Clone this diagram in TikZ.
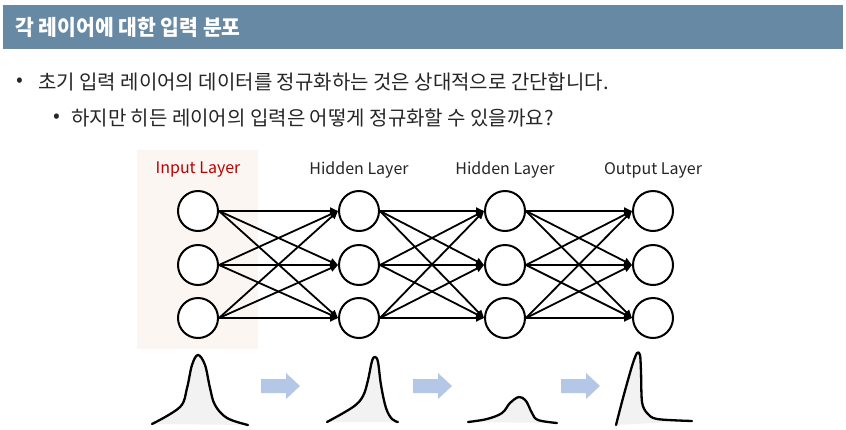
\documentclass[tikz,border=0pt]{standalone}
\usepackage{fontspec}
\setmainfont{Noto Sans CJK KR}
\usetikzlibrary{arrows.meta}
\definecolor{titlebar}{HTML}{6789A4}
\definecolor{inred}{HTML}{C00000}
\definecolor{inputshade}{HTML}{FBF6F1}
\definecolor{blockarrow}{HTML}{B4C7E7}
\definecolor{curvefill}{HTML}{F2F2F2}
\definecolor{bodytext}{HTML}{262626}
\begin{document}
\begin{tikzpicture}[x=1pt,y=-1pt,
  neuron/.style={circle, draw=black, line width=2pt, minimum size=40pt, inner sep=0pt, fill=white},
  link/.style={line width=1.8pt, -{Triangle[length=8pt,width=7pt]}},
  layerlabel/.style={font=\fontsize{16}{19}\selectfont, text=black!85},
  bodyline/.style={anchor=west, inner sep=0pt, text=bodytext, font=\fontsize{20}{24}\selectfont},
  curveline/.style={line width=2.3pt, line join=round, line cap=round},
  blockarr/.style={fill=blockarrow, draw=none}]
\useasboundingbox (0,0) rectangle (846,429);
\fill[white] (0,0) rectangle (846,429);
% title bar
\fill[titlebar] (3,5) rectangle (843,49);
\node[anchor=west, inner sep=0pt, text=white, font=\bfseries\fontsize{21.5}{25}\selectfont] (title) at (15,27) {\scalebox{0.95}[1]{각 레이어에 대한 입력 분포}};
% bullets
\node[bodyline] (b1dot) at (16,82) {•};
\node[bodyline] (b1) at (38,82) {초기 입력 레이어의 데이터를 정규화하는 것은 상대적으로 간단합니다.};
\node[bodyline] (b2dot) at (53,118) {•};
\node[bodyline] (b2) at (71,118) {하지만 히든 레이어의 입력은 어떻게 정규화할 수 있을까요?};
% input shading
\fill[inputshade] (137,150) rectangle (258,349);
% labels
\node[layerlabel, text=inred] (lin) at (198,170) {Input Layer};
\node[layerlabel] (lh1) at (359,170) {Hidden Layer};
\node[layerlabel] (lh2) at (505,170) {Hidden Layer};
\node[layerlabel] (lout) at (653,170) {Output Layer};
% neurons
\foreach \r/\y in {1/211, 2/265, 3/318} {
  \node[neuron] (i\r) at (198,\y) {};
  \node[neuron] (h\r) at (359,\y) {};
  \node[neuron] (g\r) at (505,\y) {};
  \node[neuron] (o\r) at (653,\y) {};
}
\foreach \a in {1,2,3} {
  \foreach \b in {1,2,3} {
    \draw[link] (i\a.east) -- (h\b.west);
    \draw[link] (h\a.east) -- (g\b.west);
    \draw[link] (g\a.east) -- (o\b.west);
  }
}
% distributions
\fill[curvefill] plot[smooth, tension=0.6] coordinates {(152,424) (180,407) (187,388) (192,365) (198,355) (205,365) (210,388) (215,405) (227,418) (248,425)} -- cycle;
\draw[curveline] plot[smooth, tension=0.6] coordinates {(152,424) (180,407) (187,388) (192,365) (198,355) (205,365) (210,388) (215,405) (227,418) (248,425)};
\fill[curvefill] plot[smooth, tension=0.6] coordinates {(327,422) (353,407) (363,396) (368,380) (372,361) (375,357) (378,362) (381,385) (386,408) (392,419) (398,422)} -- cycle;
\draw[curveline] plot[smooth, tension=0.6] coordinates {(327,422) (353,407) (363,396) (368,380) (372,361) (375,357) (378,362) (381,385) (386,408) (392,419) (398,422)};
\fill[curvefill] plot[smooth, tension=0.6] coordinates {(468,422) (487,419) (502,413) (510,403) (519,397) (526,401) (532,413) (538,420) (557,423)} -- cycle;
\draw[curveline] plot[smooth, tension=0.6] coordinates {(468,422) (487,419) (502,413) (510,403) (519,397) (526,401) (532,413) (538,420) (557,423)};
\fill[curvefill] plot[smooth, tension=0.5] coordinates {(616,425) (623,398) (632,366) (637,353) (640,355) (641,372) (642,402) (647,413) (657,419) (692,421)} -- cycle;
\draw[curveline] plot[smooth, tension=0.5] coordinates {(616,425) (623,398) (632,366) (637,353) (640,355) (641,372) (642,402) (647,413) (657,419) (692,421)};
% block arrows
\foreach \x in {261,413,561} {
  \fill[blockarr] (\x,379) -- (\x+25,379) -- (\x+25,373) -- (\x+39,386) -- (\x+25,399) -- (\x+25,393) -- (\x,393) -- cycle;
}
\end{tikzpicture}
\end{document}
